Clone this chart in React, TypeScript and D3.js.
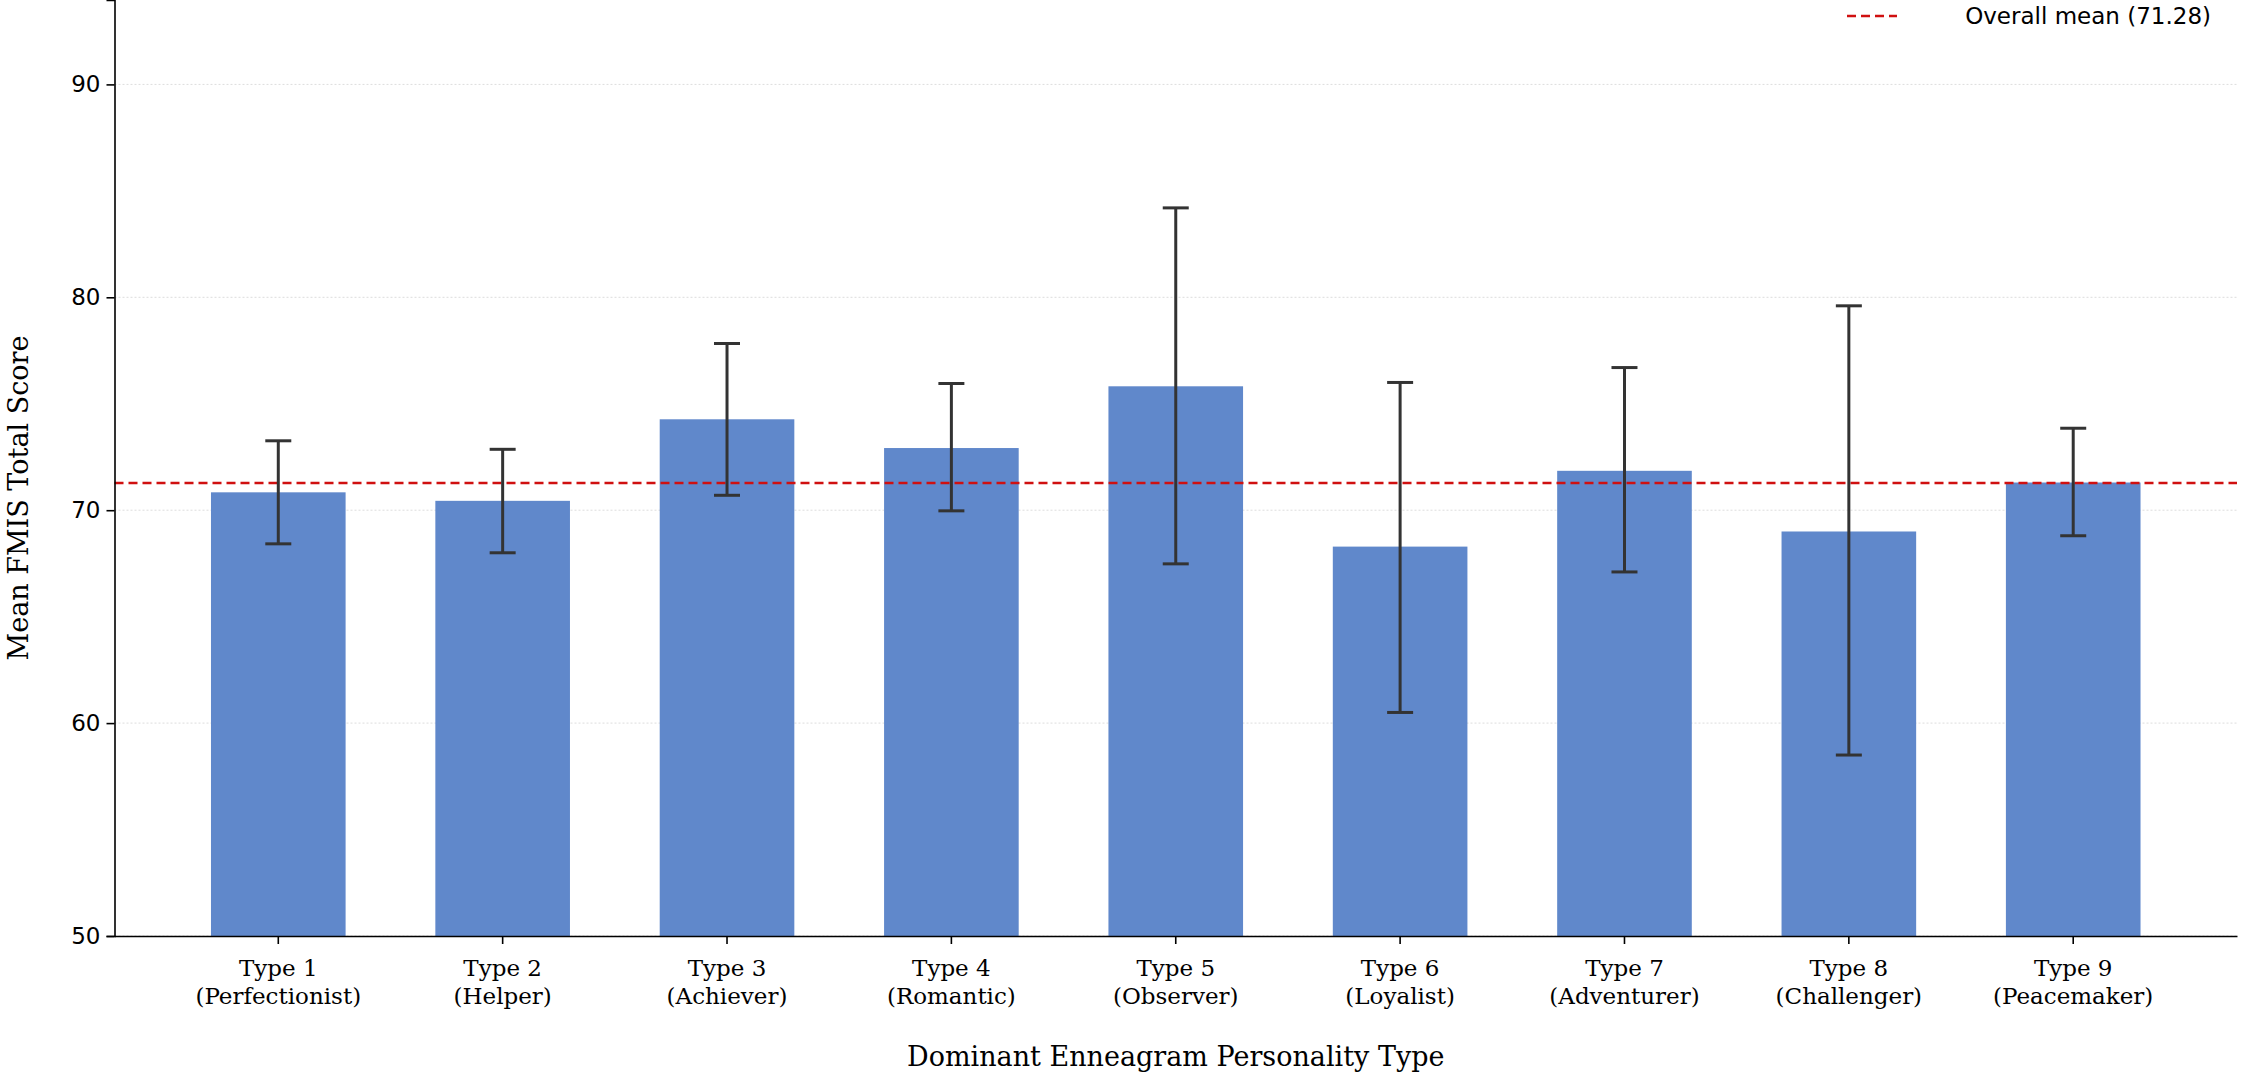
import React, { useEffect, useRef } from "react";
import * as d3 from "d3";

const types = ["Type 1", "Type 2", "Type 3", "Type 4", "Type 5", "Type 6", "Type 7", "Type 8", "Type 9"];
const names = ["Perfectionist", "Helper", "Achiever", "Romantic", "Observer", "Loyalist", "Adventurer", "Challenger", "Peacemaker"];
const means = [70.84, 70.44, 74.27, 72.92, 75.82, 68.29, 71.85, 69.0, 71.3];
const errHigh = [73.26, 72.86, 77.83, 75.95, 84.2, 76.0, 76.7, 79.6, 73.85];
const errLow = [68.42, 68.0, 70.7, 69.97, 67.48, 60.5, 67.1, 58.5, 68.8];
const overallMean = 71.28;
const yTicks = [50, 60, 70, 80, 90];

const W = 2244;
const H = 1084;

const App = () => {
  const svgRef = useRef(null);

  useEffect(() => {
    const left = 114.5;
    const right = 2237;
    const bottom = 936;
    const y = d3.scaleLinear([50, 90], [bottom, 84.4]);
    const yTop = y.invert(0);
    const x = d3.scaleBand(types, [left, right]).paddingInner(0.4).paddingOuter(0.43);

    const svg = d3.select(svgRef.current);
    svg.selectAll("*").remove();

    // grid
    svg.append("g").selectAll("line").data(yTicks).join("line")
      .attr("x1", left).attr("x2", right)
      .attr("y1", (d) => y(d)).attr("y2", (d) => y(d))
      .attr("stroke", "#ddd").attr("stroke-width", 1).attr("stroke-dasharray", "2,2");

    // bars
    svg.append("g").selectAll("rect").data(means).join("rect")
      .attr("x", (_, i) => x(types[i])!)
      .attr("width", x.bandwidth())
      .attr("y", (d) => y(d))
      .attr("height", (d) => bottom - y(d))
      .attr("fill", "#6088cb");

    // mean line
    svg.append("line")
      .attr("x1", left).attr("x2", right)
      .attr("y1", y(overallMean)).attr("y2", y(overallMean))
      .attr("stroke", "#d01010").attr("stroke-width", 2.5).attr("stroke-dasharray", "9,5");

    // error bars
    const eb = svg.append("g").attr("stroke", "#333").attr("stroke-width", 3);
    types.forEach((t, i) => {
      const cx = x(t)! + x.bandwidth() / 2;
      eb.append("line").attr("x1", cx).attr("x2", cx).attr("y1", y(errLow[i])).attr("y2", y(errHigh[i]));
      [errLow[i], errHigh[i]].forEach((v) =>
        eb.append("line").attr("x1", cx - 13).attr("x2", cx + 13).attr("y1", y(v)).attr("y2", y(v))
      );
    });

    // axes
    const yAxis = d3.axisLeft(d3.scaleLinear([50, yTop], [bottom, 0])).tickValues(yTicks).tickSize(8).tickPadding(6);
    const gy = svg.append("g").attr("transform", `translate(${left},0)`).call(yAxis);
    gy.selectAll("text").attr("font-family", "DejaVu Sans").attr("font-size", 23).attr("fill", "#000");
    gy.selectAll("line,path").attr("stroke", "#000").attr("stroke-width", 1.6);

    const xAxis = d3.axisBottom(x).tickSize(8).tickSizeOuter(0).tickFormat(() => "");
    const gx = svg.append("g").attr("transform", `translate(0,${bottom})`).call(xAxis);
    gx.selectAll("line,path").attr("stroke", "#000").attr("stroke-width", 1.6);
    types.forEach((t, i) => {
      const cx = x(t)! + x.bandwidth() / 2;
      const tx = svg.append("text").attr("text-anchor", "middle")
        .attr("font-family", "DejaVu Serif").attr("font-size", 23).attr("fill", "#000");
      tx.append("tspan").attr("x", cx).attr("y", bottom + 40).text(t);
      tx.append("tspan").attr("x", cx).attr("y", bottom + 68).text(`(${names[i]})`);
    });

    svg.append("text").attr("x", (left + right) / 2).attr("y", 1066)
      .attr("text-anchor", "middle").attr("font-family", "DejaVu Serif").attr("font-size", 27)
      .text("Dominant Enneagram Personality Type");
    svg.append("text").attr("transform", `translate(28,${(bottom) / 2 + 30}) rotate(-90)`)
      .attr("text-anchor", "middle").attr("font-family", "DejaVu Serif").attr("font-size", 27)
      .text("Mean FMIS Total Score");

    // legend
    svg.append("line").attr("x1", 1847).attr("x2", 1897).attr("y1", 16).attr("y2", 16)
      .attr("stroke", "#d01010").attr("stroke-width", 2.5).attr("stroke-dasharray", "9,5");
    svg.append("text").attr("x", 2211).attr("y", 24).attr("text-anchor", "end")
      .attr("font-family", "DejaVu Sans").attr("font-size", 23).text(`Overall mean (${overallMean.toFixed(2)})`);
  }, []);

  return (
    <svg ref={svgRef} width={W} height={H}
      style={{ position: "absolute", left: 0, top: 0, background: "#fff" }} />
  );
};

export default App;
